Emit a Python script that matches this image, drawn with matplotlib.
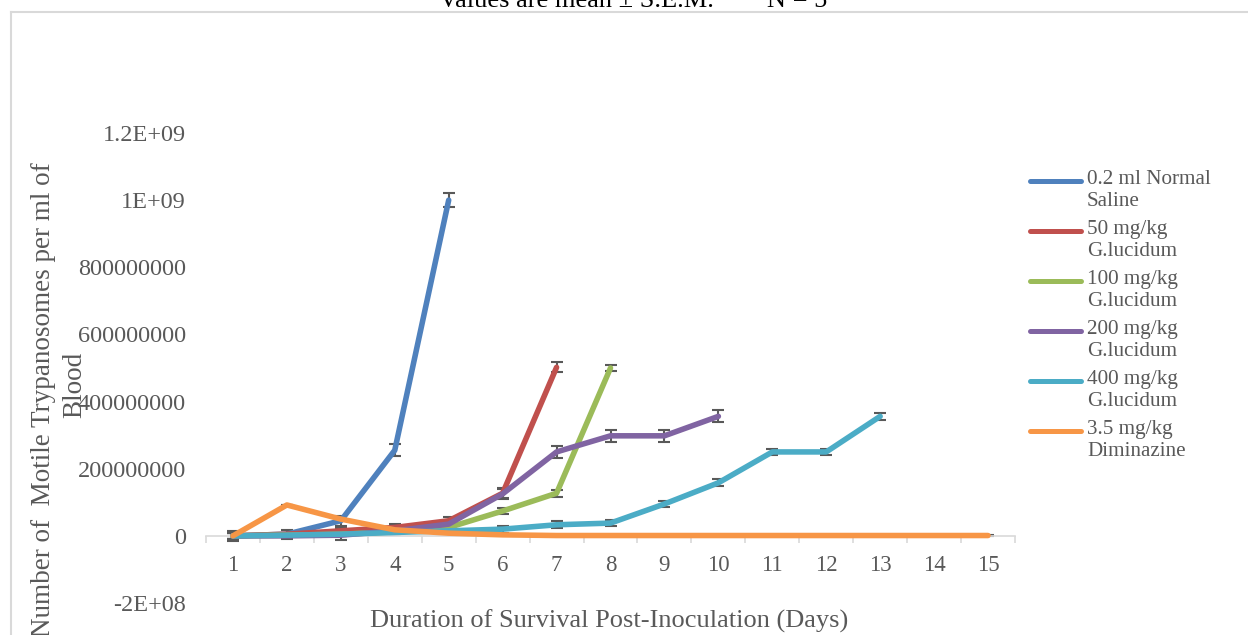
import matplotlib
matplotlib.use("Agg")
import matplotlib.pyplot as plt
from matplotlib.lines import Line2D
from matplotlib.ticker import FixedLocator

plt.rcParams["font.family"] = ["Liberation Serif", "DejaVu Serif"]

days = list(range(1, 16))
labels = ["0.2 ml Normal\nSaline", "50 mg/kg\nG.lucidum", "100 mg/kg\nG.lucidum",
          "200 mg/kg\nG.lucidum", "400 mg/kg\nG.lucidum", "3.5 mg/kg\nDiminazine"]
colors = ["#4F81BD", "#C0504D", "#9BBB59", "#8064A2", "#4BACC6", "#F79646"]

saline = [0, 5e6, 4.5e7, 2.55e8, 1.0e9]
saline_err = [1.5e7, 1.2e7, 1.5e7, 1.8e7, 2e7]
g50 = [0, 5e6, 1.5e7, 2.5e7, 4.5e7, 1.27e8, 5.02e8]
g50_err = [1e7, 5e6, 8e6, 1e7, 1e7, 1.5e7, 1.5e7]
g100 = [0, 2e6, 5e6, 1.2e7, 2.5e7, 7.4e7, 1.27e8, 5.0e8]
g100_err = [1e7, 5e6, 5e6, 5e6, 5e6, 8e6, 1e7, 1e7]
g200 = [0, 0, 2e6, 1.5e7, 3.5e7, 1.25e8, 2.5e8, 2.98e8, 2.98e8, 3.56e8]
g200_err = [1e7, 1e7, 1.5e7, 8e6, 8e6, 1.5e7, 1.8e7, 1.8e7, 1.8e7, 1.8e7]
g400 = [0, 2e6, 5e6, 1e7, 1.5e7, 2e7, 3.3e7, 3.8e7, 9.5e7, 1.58e8, 2.5e8, 2.5e8, 3.56e8]
g400_err = [1e7, 5e6, 5e6, 5e6, 5e6, 1e7, 1e7, 1e7, 1e7, 1e7, 1e7, 1e7, 1e7]
dimin = [0, 9.2e7, 5e7, 1.8e7, 8e6, 3e6, 1e6, 1e6, 1e6, 1e6, 1e6, 1e6, 1e6, 1e6, 1e6]
dimin_err = [1e7, 1e6, 1e6, 1e6, 1e6, 1e6, 1e6, 1e6, 1e6, 1e6, 1e6, 1e6, 1e6, 1e6, 1e6]

series = [(saline, saline_err), (g50, g50_err), (g100, g100_err),
          (g200, g200_err), (g400, g400_err), (dimin, dimin_err)]

yticks = [-2e8, 0, 2e8, 4e8, 6e8, 8e8, 1e9, 1.2e9]
ytick_labels = ["-2E+08", "0", "200000000", "400000000", "600000000", "800000000",
                "1E+09", "1.2E+09"]

fig = plt.figure(figsize=(12.48, 6.35), dpi=100)
ax = fig.add_axes([206 / 1248, 1 - 603 / 635, 809 / 1248, 470 / 635])

for (vals, err), col in zip(series, colors):
    x = days[:len(vals)]
    ax.errorbar(x, vals, yerr=err, fmt="none", ecolor="#595959", elinewidth=1.5,
                capsize=4, capthick=1.5, zorder=2)
    ax.plot(x, vals, color=col, lw=4, solid_capstyle="round",
            solid_joinstyle="round", zorder=3)

ax.set_xlim(0.5, 15.5)
ax.set_ylim(-2e8, 1.2e9)
for s in ["top", "right", "left"]:
    ax.spines[s].set_visible(False)
ax.spines["bottom"].set_position(("data", 0))
ax.spines["bottom"].set_color("#d9d9d9")
ax.spines["bottom"].set_linewidth(1.2)

ax.set_xticks(days)
ax.xaxis.set_minor_locator(FixedLocator([d + 0.5 for d in range(0, 16)]))
ax.tick_params(axis="x", which="major", length=0, pad=13.5, labelsize=16.5, labelcolor="#595959")
ax.tick_params(axis="x", which="minor", length=5, width=1.2, color="#d9d9d9", direction="out")

ax.set_yticks(yticks)
ax.set_yticklabels(ytick_labels)
ax.tick_params(axis="y", length=0, pad=14.5, labelsize=17.5, labelcolor="#595959")

fig.text(609 / 1248, 1 - 628 / 635, "Duration of Survival Post-Inoculation (Days)",
         ha="center", va="baseline", fontsize=19, color="#595959")

fig.text(44 / 1248, 1 - 400 / 635, "Number of  Motile Trypanosomes per ml of",
         rotation=90, ha="center", va="center", fontsize=19.5, color="#595959")
fig.text(74.5 / 1248, 1 - 385 / 635, "Blood",
         rotation=90, ha="center", va="center", fontsize=19.5, color="#595959")

fig.text(633 / 1248, 1 - 7 / 635, "Values are mean \u00b1 S.E.M.        N = 5",
         ha="center", va="baseline", fontsize=19, color="black")

# chart border
fig.add_artist(Line2D([10.5 / 1248, 1.0], [1 - 11.5 / 635] * 2, color="#d9d9d9", lw=1.5,
                      transform=fig.transFigure))
fig.add_artist(Line2D([10.5 / 1248] * 2, [0, 1 - 11.5 / 635], color="#d9d9d9", lw=1.5,
                      transform=fig.transFigure))

# legend
for i, (lab, col) in enumerate(zip(labels, colors)):
    ytop = 181 + 50 * i
    yf = 1 - ytop / 635
    fig.add_artist(Line2D([1030 / 1248, 1081 / 1248], [yf, yf], color=col, lw=3.6,
                          solid_capstyle="round", transform=fig.transFigure))
    fig.text(1087 / 1248, 1 - (ytop - 11) / 635, lab, ha="left", va="top",
             fontsize=15.2, color="#595959", linespacing=1.2)

fig.savefig("out.png", dpi=100)
